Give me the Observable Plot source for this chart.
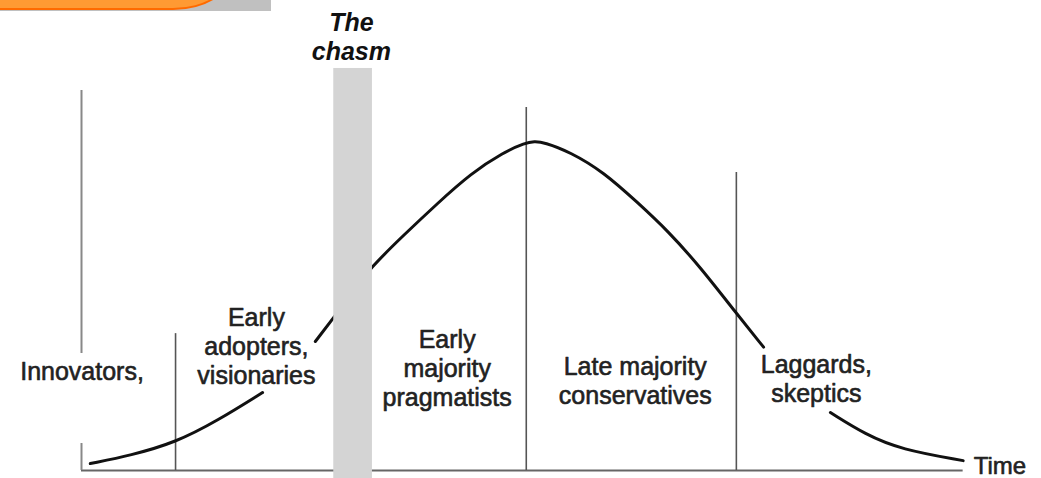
<!DOCTYPE html>
<html><head><meta charset="utf-8">
<script src="https://cdn.jsdelivr.net/npm/d3@7"></script>
<script src="https://cdn.jsdelivr.net/npm/@observablehq/plot@0.6"></script>
<style>
body{margin:0;background:#fff;overflow:hidden;}
#wrap{position:relative;width:1041px;height:478px;overflow:hidden;}
#chart{position:absolute;left:0;top:0;}
.tab-gray{position:absolute;left:0;top:0;width:271px;height:11px;background:#c0c0c0;z-index:2;}
.tab-orange{position:absolute;left:-10px;top:-40px;width:241px;height:48px;background:#ff9a33;border-bottom:2px solid #ff6a00;border-right:2px solid #ff6a00;border-bottom-right-radius:60px 39px;z-index:3;}
</style>
</head><body>
<div id="wrap"><div id="chart"></div><div class="tab-gray"></div><div class="tab-orange"></div></div>
<script>
// Adoption curve (time 0–100, adoption 0–100 at the peak)
const time     = [1.0, 5.6, 10.7, 15.5, 20.6, 23.6, 26.6, 28.7, 30.8, 32.9, 36.6, 40.5, 44.3, 48.0, 50.5, 51.5, 52.6, 55.6, 59.4, 63.2, 66.8, 70.4, 74.4, 77.6, 81.2, 85.2, 89.2, 93.2, 100.3];
const adoption = [2.1, 4.6, 8.5, 15.2, 23.7, 31.6, 39.2, 46.5, 54.1, 61.7, 71.4, 81.2, 90.3, 96.7, 99.6, 100, 99.8, 96.8, 90.7, 81.6, 72.6, 61.8, 48.1, 37.5, 25.8, 17.6, 10.9, 6.4, 3.0];
// Label-covered stretches of the curve (time ranges)
const gapStart = [21.0, 78.0];
const gapEnd   = [26.0, 84.5];

// Segment boundaries and their heights
const boundaryTime   = [10.7, 50.6, 74.5];
const boundaryHeight = [41.6, 110.3, 90.6];
// Left axis pieces (broken around the first label)
const axisFrom = [35.6, 0];
const axisTo   = [115.5, 8.2];

// The chasm
const chasmStart = 28.7, chasmEnd = 33.1, chasmTop = 122.2;

const stageLabels = ["Innovators,", "Early\nadopters,\nvisionaries", "Early\nmajority\npragmatists", "Late majority\nconservatives", "Laggards,\nskeptics"];
const chasmLabel = "The\nchasm";
const axisLabel = "Time";

const curve = time.map((t, i) => ({t, a: adoption[i]}));
const hidden = t => gapStart.some((g, i) => t > g && t < gapEnd[i]);
const boundaries = boundaryTime.map((t, i) => ({t, h: boundaryHeight[i]}));
const axisParts = axisFrom.map((f, i) => ({f, to: axisTo[i]}));
const labelPos = [[0.06, 30.2], [19.9, 37.8], [41.6, 31.1], [63.0, 27.3], [83.6, 27.9]];
const labels = stageLabels.map((s, i) => ({s, x: labelPos[i][0], y: labelPos[i][1]}));

const chart = Plot.plot({
  width: 1041, height: 478, margin: 0,
  x: {domain: [0, 100], range: [81, 960], axis: null},
  y: {domain: [0, 100], range: [470, 141], axis: null},
  style: {background: "transparent", fontFamily: "'Liberation Sans', Arial, sans-serif", overflow: "visible"},
  marks: [
    Plot.ruleY([0], {x1: 0, x2: 100.3, stroke: "#666", strokeWidth: 2}),
    Plot.ruleX(axisParts, {x: 0, y1: "f", y2: "to", stroke: "#888", strokeWidth: 2}),
    Plot.ruleX(boundaries, {x: "t", y1: 0, y2: "h", stroke: "#555", strokeWidth: 1.6}),
    Plot.line(curve, {x: "t", y: d => hidden(d.t) ? NaN : d.a, curve: "basis", stroke: "#111", strokeWidth: 3}),
    Plot.rect([{x1: chasmStart, x2: chasmEnd}], {x1: "x1", x2: "x2", y1: -3, y2: chasmTop, fill: "#d4d4d4"}),
    Plot.text(labels, {x: "x", y: "y", text: "s", fontSize: 25, lineHeight: 1.16, fill: "#222", stroke: "#222", strokeWidth: 0.6, textAnchor: "middle"}),
    Plot.text([chasmLabel], {x: (chasmStart + chasmEnd) / 2 - 0.2, y: 132.1, text: d => d, fontSize: 25, lineHeight: 1.2, fontWeight: "bold", fontStyle: "italic", fill: "#111"}),
    Plot.text([axisLabel], {x: 101.5, y: 1.2, text: d => d, fontSize: 24, textAnchor: "start", fill: "#222", stroke: "#222", strokeWidth: 0.6})
  ]
});
document.getElementById("chart").appendChild(chart);
</script>
</body></html>
